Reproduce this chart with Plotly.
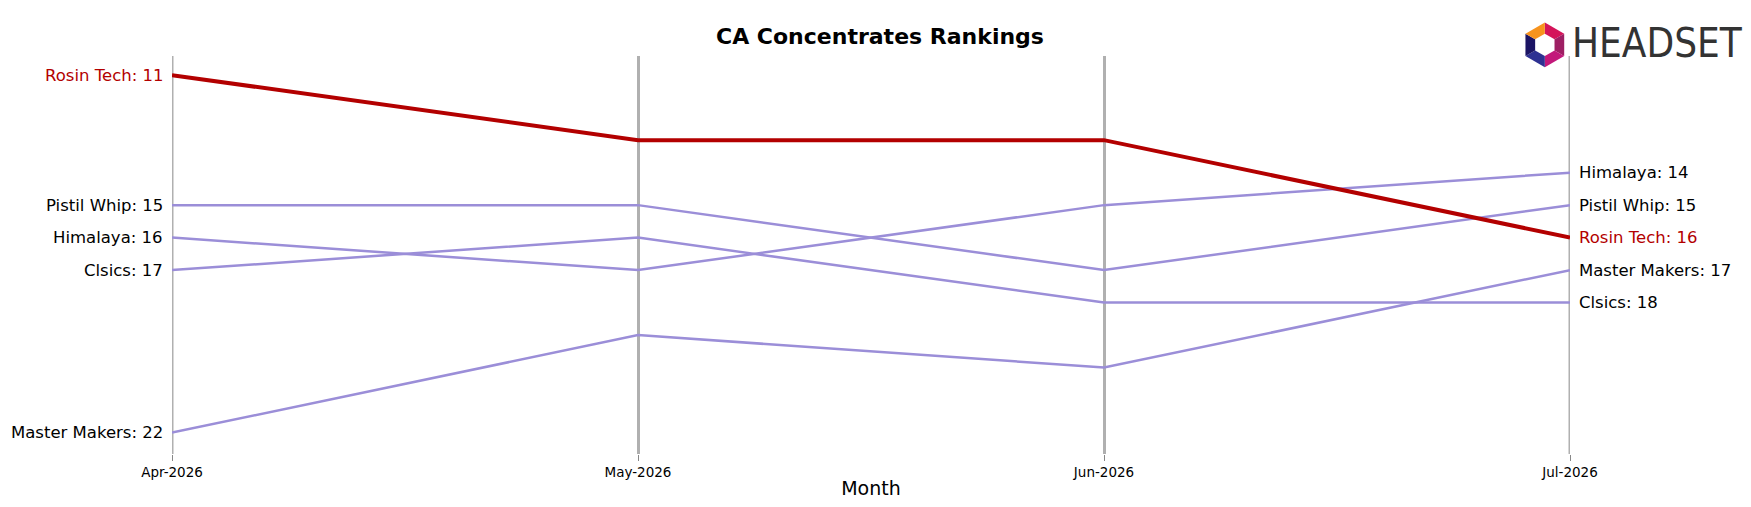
import math
import plotly.graph_objects as go

months = ["Apr-2026", "May-2026", "Jun-2026", "Jul-2026"]
brands = ["Pistil Whip", "Himalaya", "Clsics", "Master Makers", "Rosin Tech"]
ranks = {
    "Pistil Whip": [15, 15, 17, 15],
    "Himalaya": [16, 17, 15, 14],
    "Clsics": [17, 16, 18, 18],
    "Master Makers": [22, 19, 20, 17],
    "Rosin Tech": [11, 13, 13, 16],
}
highlight = "Rosin Tech"
RED = "#b30000"
PURPLE = "#9b8ed8"
GRID = "#b0b0b0"

fig = go.Figure()
for b in brands:
    hl = b == highlight
    fig.add_trace(go.Scatter(x=[0, 1, 2, 3], y=ranks[b], mode="lines",
                             line=dict(color=RED if hl else PURPLE, width=4 if hl else 2.5),
                             showlegend=False, hoverinfo="skip"))
    col = RED if hl else "black"
    fig.add_annotation(x=0, y=ranks[b][0], text=f"{b}: {ranks[b][0]}", xanchor="right", xshift=-7,
                       showarrow=False, font=dict(size=16.5, color=col, family="DejaVu Sans"))
    fig.add_annotation(x=3, y=ranks[b][-1], text=f"{b}: {ranks[b][-1]}", xanchor="left", xshift=7,
                       showarrow=False, font=dict(size=16.5, color=col, family="DejaVu Sans"))

# logo: text + simple hexagon icon
fig.add_annotation(x=1.125, y=1.0, xref="paper", yref="paper", xanchor="right", yanchor="bottom",
                   yshift=-12, text="HEADSET", showarrow=False,
                   font=dict(size=40, color="#333333", family="DejaVu Sans Condensed"))
icon_cols = ["#d4145a", "#9e1f63", "#c2187a", "#2e3192", "#1b1464", "#f7931e"]
cx, cy, R, k = 0.982, 1.028, 0.016, 3.5
for i, c in enumerate(icon_cols):
    a0 = math.radians(90 - 60 * i)
    a1 = math.radians(90 - 60 * (i + 1))
    p = [(cx + R * math.cos(a0), cy + R * k * math.sin(a0)),
         (cx + R * math.cos(a1), cy + R * k * math.sin(a1)),
         (cx + 0.5 * R * math.cos(a1), cy + 0.5 * R * k * math.sin(a1)),
         (cx + 0.5 * R * math.cos(a0), cy + 0.5 * R * k * math.sin(a0))]
    path = "M " + " L ".join(f"{x},{y}" for x, y in p) + " Z"
    fig.add_shape(type="path", path=path, xref="paper", yref="paper", fillcolor=c,
                  line=dict(width=0))

fig.update_layout(
    width=1751, height=507, plot_bgcolor="white", paper_bgcolor="white",
    margin=dict(l=164, r=189, t=48, b=61),
    title=dict(text="<b>CA Concentrates Rankings</b>", x=0.498, xref="container", y=0.945,
               xanchor="center", yanchor="middle", font=dict(size=22, color="black", family="DejaVu Sans")),
    xaxis=dict(tickmode="array", tickvals=[0, 1, 2, 3], ticktext=months, range=[0, 3],
               showgrid=True, gridcolor=GRID, gridwidth=3, zeroline=False,
               ticks="outside", ticklen=6, tickcolor="#888888",
               tickfont=dict(size=13.5, color="black", family="DejaVu Sans"),
               title=dict(text="Month", font=dict(size=19, color="black", family="DejaVu Sans"), standoff=2)),
    yaxis=dict(range=[22.66, 10.41], showgrid=False, showticklabels=False, zeroline=False),
)
for xv in (0, 3):
    fig.add_shape(type="line", x0=xv, x1=xv, y0=0, y1=1, xref="x", yref="paper",
                  line=dict(color=GRID, width=3), layer="below")
fig.write_html("out.html")
